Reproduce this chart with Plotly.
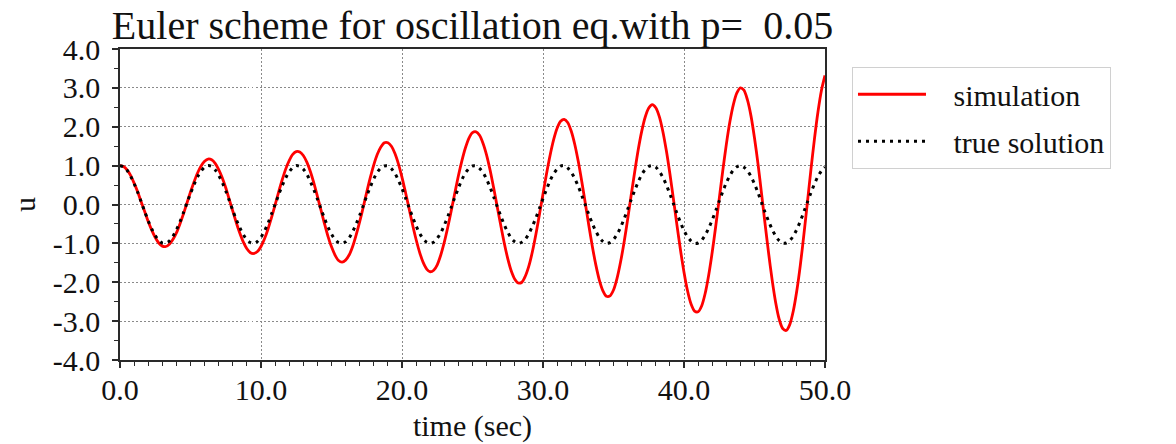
import plotly.graph_objects as go

# time samples (sec), every 0.25 s
time_sec = [
    0.0, 0.25, 0.5, 0.75, 1.0, 1.25, 1.5, 1.75, 2.0, 2.25, 2.5, 2.75, 3.0, 3.25, 3.5, 3.75,
    4.0, 4.25, 4.5, 4.75, 5.0, 5.25, 5.5, 5.75, 6.0, 6.25, 6.5, 6.75, 7.0, 7.25, 7.5, 7.75,
    8.0, 8.25, 8.5, 8.75, 9.0, 9.25, 9.5, 9.75, 10.0, 10.25, 10.5, 10.75, 11.0, 11.25, 11.5, 11.75,
    12.0, 12.25, 12.5, 12.75, 13.0, 13.25, 13.5, 13.75, 14.0, 14.25, 14.5, 14.75, 15.0, 15.25, 15.5, 15.75,
    16.0, 16.25, 16.5, 16.75, 17.0, 17.25, 17.5, 17.75, 18.0, 18.25, 18.5, 18.75, 19.0, 19.25, 19.5, 19.75,
    20.0, 20.25, 20.5, 20.75, 21.0, 21.25, 21.5, 21.75, 22.0, 22.25, 22.5, 22.75, 23.0, 23.25, 23.5, 23.75,
    24.0, 24.25, 24.5, 24.75, 25.0, 25.25, 25.5, 25.75, 26.0, 26.25, 26.5, 26.75, 27.0, 27.25, 27.5, 27.75,
    28.0, 28.25, 28.5, 28.75, 29.0, 29.25, 29.5, 29.75, 30.0, 30.25, 30.5, 30.75, 31.0, 31.25, 31.5, 31.75,
    32.0, 32.25, 32.5, 32.75, 33.0, 33.25, 33.5, 33.75, 34.0, 34.25, 34.5, 34.75, 35.0, 35.25, 35.5, 35.75,
    36.0, 36.25, 36.5, 36.75, 37.0, 37.25, 37.5, 37.75, 38.0, 38.25, 38.5, 38.75, 39.0, 39.25, 39.5, 39.75,
    40.0, 40.25, 40.5, 40.75, 41.0, 41.25, 41.5, 41.75, 42.0, 42.25, 42.5, 42.75, 43.0, 43.25, 43.5, 43.75,
    44.0, 44.25, 44.5, 44.75, 45.0, 45.25, 45.5, 45.75, 46.0, 46.25, 46.5, 46.75, 47.0, 47.25, 47.5, 47.75,
    48.0, 48.25, 48.5, 48.75, 49.0, 49.25, 49.5, 49.75, 50.0,
]

simulation = [
    1.00, 0.98, 0.89, 0.75, 0.55, 0.33, 0.07, -0.18, -0.44, -0.66, -0.85, -0.99, -1.07, -1.08, -1.02, -0.90,
    -0.73, -0.50, -0.24, 0.04, 0.32, 0.58, 0.81, 0.99, 1.11, 1.17, 1.15, 1.06, 0.90, 0.69, 0.43, 0.13,
    -0.17, -0.47, -0.74, -0.97, -1.14, -1.24, -1.26, -1.21, -1.08, -0.88, -0.63, -0.33, -0.01, 0.32, 0.63, 0.91,
    1.13, 1.29, 1.36, 1.35, 1.26, 1.09, 0.85, 0.55, 0.21, -0.14, -0.49, -0.82, -1.09, -1.30, -1.44, -1.48,
    -1.43, -1.30, -1.08, -0.78, -0.44, -0.07, 0.32, 0.69, 1.02, 1.29, 1.48, 1.59, 1.59, 1.50, 1.31, 1.04,
    0.70, 0.31, -0.10, -0.52, -0.90, -1.23, -1.49, -1.66, -1.73, -1.69, -1.55, -1.30, -0.97, -0.58, -0.15, 0.30,
    0.74, 1.13, 1.46, 1.71, 1.85, 1.87, 1.78, 1.57, 1.27, 0.88, 0.43, -0.05, -0.53, -0.99, -1.39, -1.71,
    -1.92, -2.02, -2.00, -1.84, -1.58, -1.21, -0.76, -0.25, 0.27, 0.79, 1.26, 1.66, 1.96, 2.14, 2.19, 2.11,
    1.89, 1.55, 1.11, 0.59, 0.03, -0.54, -1.08, -1.56, -1.95, -2.22, -2.36, -2.35, -2.20, -1.90, -1.48, -0.97,
    -0.39, 0.23, 0.83, 1.40, 1.88, 2.25, 2.48, 2.57, 2.49, 2.26, 1.88, 1.38, 0.79, 0.14, -0.53, -1.17,
    -1.74, -2.22, -2.56, -2.74, -2.76, -2.61, -2.29, -1.82, -1.23, -0.56, 0.15, 0.87, 1.54, 2.12, 2.57, 2.87,
    3.00, 2.94, 2.69, 2.28, 1.71, 1.04, 0.28, -0.50, -1.25, -1.94, -2.52, -2.95, -3.19, -3.24, -3.09, -2.74,
    -2.22, -1.56, -0.78, 0.05, 0.89, 1.68, 2.38, 2.94, 3.32,
]

true_solution = [
    1.00, 0.97, 0.88, 0.73, 0.54, 0.32, 0.07, -0.18, -0.42, -0.63, -0.80, -0.92, -0.99, -0.99, -0.94, -0.82,
    -0.65, -0.45, -0.21, 0.04, 0.28, 0.51, 0.71, 0.86, 0.96, 1.00, 0.98, 0.89, 0.75, 0.57, 0.35, 0.10,
    -0.15, -0.39, -0.60, -0.78, -0.91, -0.98, -1.00, -0.95, -0.84, -0.68, -0.48, -0.24, 0.00, 0.25, 0.48, 0.68,
    0.84, 0.95, 1.00, 0.98, 0.91, 0.78, 0.59, 0.38, 0.14, -0.11, -0.35, -0.58, -0.76, -0.90, -0.98, -1.00,
    -0.96, -0.86, -0.70, -0.50, -0.28, -0.03, 0.22, 0.45, 0.66, 0.83, 0.94, 0.99, 0.99, 0.92, 0.80, 0.62,
    0.41, 0.17, -0.08, -0.32, -0.55, -0.74, -0.88, -0.97, -1.00, -0.97, -0.87, -0.73, -0.53, -0.31, -0.06, 0.19,
    0.42, 0.64, 0.81, 0.93, 0.99, 0.99, 0.93, 0.82, 0.65, 0.44, 0.20, -0.05, -0.29, -0.52, -0.71, -0.87,
    -0.96, -1.00, -0.97, -0.89, -0.75, -0.56, -0.34, -0.10, 0.15, 0.39, 0.61, 0.79, 0.91, 0.99, 1.00, 0.94,
    0.83, 0.67, 0.47, 0.23, -0.01, -0.26, -0.49, -0.69, -0.85, -0.95, -1.00, -0.98, -0.90, -0.77, -0.59, -0.37,
    -0.13, 0.12, 0.36, 0.58, 0.77, 0.90, 0.98, 1.00, 0.96, 0.85, 0.70, 0.50, 0.27, 0.02, -0.23, -0.46,
    -0.67, -0.83, -0.94, -1.00, -0.99, -0.92, -0.79, -0.61, -0.40, -0.16, 0.09, 0.33, 0.56, 0.74, 0.89, 0.97,
    1.00, 0.96, 0.87, 0.72, 0.53, 0.30, 0.05, -0.20, -0.43, -0.64, -0.81, -0.93, -0.99, -0.99, -0.93, -0.81,
    -0.64, -0.43, -0.19, 0.06, 0.30, 0.53, 0.72, 0.87, 0.96,
]

x_tick_vals = [0, 10, 20, 30, 40, 50]
x_tick_text = ["0.0", "10.0", "20.0", "30.0", "40.0", "50.0"]
y_tick_vals = [-4, -3, -2, -1, 0, 1, 2, 3, 4]
y_tick_text = ["-4.0", "-3.0", "-2.0", "-1.0", "0.0", "1.0", "2.0", "3.0", "4.0"]

FONT = "Liberation Serif, Times New Roman, serif"
AX = "#2a2a2a"
NB = "\u00a0"

fig = go.Figure()
fig.add_trace(go.Scatter(
    x=time_sec, y=simulation, mode="lines", name=NB * 3 + "simulation",
    legendgroup="a",
    line=dict(color="#ff0000", width=2.8, shape="spline", smoothing=0.8),
))
fig.add_trace(go.Scatter(
    x=time_sec, y=true_solution, mode="lines", name=NB * 3 + "true solution",
    legendgroup="b",
    line=dict(color="#000000", width=3, dash="3px,5px", shape="spline", smoothing=0.8),
))

axis_common = dict(
    showline=True, linecolor=AX, linewidth=1.6, mirror=True,
    ticks="outside", ticklen=6, tickwidth=1.5, tickcolor=AX,
    showgrid=True, gridcolor="#8a8a8a", griddash="1.5px,2.5px", gridwidth=1,
    zeroline=False, automargin=False,
    tickfont=dict(family=FONT, size=30, color="#111"),
)

fig.update_xaxes(
    range=[0, 50], tickvals=x_tick_vals, ticktext=x_tick_text,
    ticklabelstandoff=-4,
    minor=dict(dtick=1, tick0=0, ticks="outside", ticklen=4, tickwidth=1.2, tickcolor=AX, showgrid=False),
    title=dict(text="time (sec)", font=dict(family=FONT, size=30, color="#111"), standoff=10),
    **axis_common,
)
fig.update_yaxes(
    range=[-4, 4], tickvals=y_tick_vals, ticktext=y_tick_text,
    ticklabelstandoff=6,
    minor=dict(dtick=0.5, tick0=0, ticks="outside", ticklen=4, tickwidth=1.2, tickcolor=AX, showgrid=False),
    title=dict(text="u", font=dict(family=FONT, size=30, color="#111"), standoff=8),
    **axis_common,
)

fig.update_layout(
    width=1176, height=444,
    margin=dict(l=120, r=351, t=49, b=84),
    paper_bgcolor="white", plot_bgcolor="white",
    title=dict(text="Euler scheme for oscillation eq.with p=" + NB + " 0.05",
               font=dict(family=FONT, size=40, color="#111"),
               x=0.5, xref="paper", xanchor="center",
               y=1.0, yref="paper", yanchor="bottom", pad=dict(b=10)),
    legend=dict(
        x=1.038, y=0.942, xanchor="left", yanchor="top",
        font=dict(family=FONT, size=30, color="#111"),
        bordercolor="#d0d0d0", borderwidth=1.2, bgcolor="white",
        itemwidth=68, tracegroupgap=5,
    ),
    showlegend=True,
)

fig.write_html(
    "out.html",
    config={"displayModeBar": False},
    post_script="document.body.style.margin='0px';document.body.style.overflow='hidden';",
)
